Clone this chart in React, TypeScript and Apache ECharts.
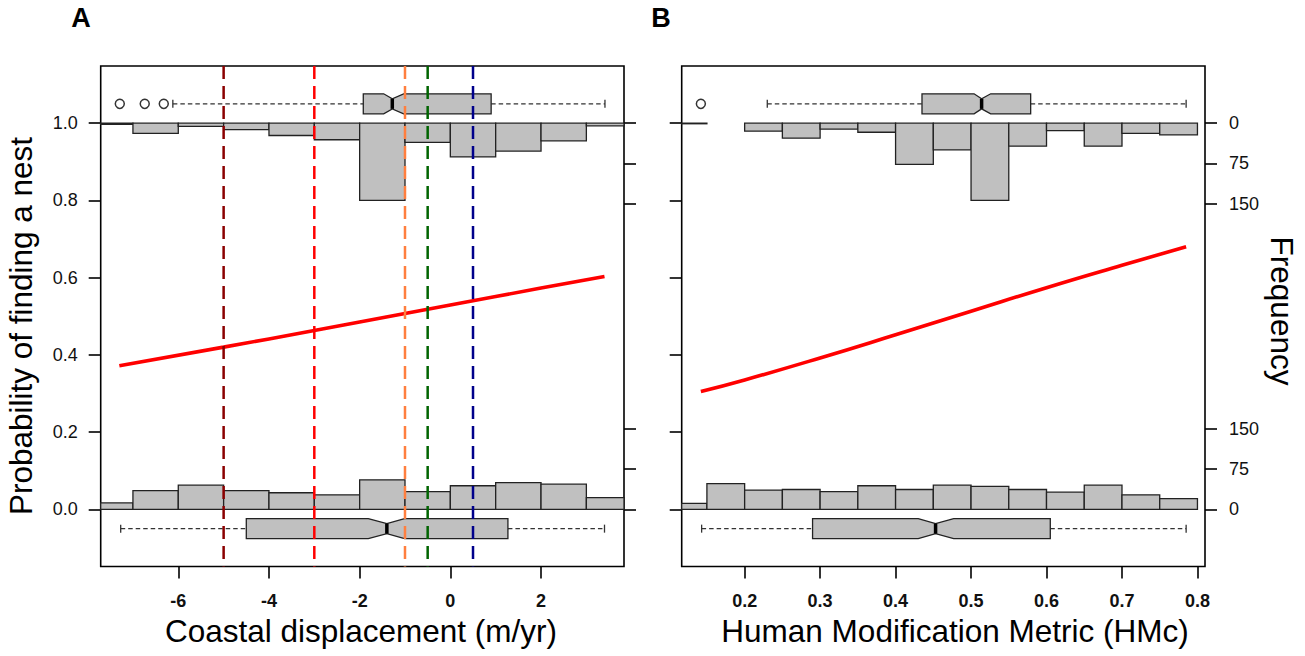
import React, { useEffect, useRef } from "react";
import * as echarts from "echarts";

// ---- tick labels ----
const xTicksA = [-6, -4, -2, 0, 2];
const xTicksB = [0.2, 0.3, 0.4, 0.5, 0.6, 0.7, 0.8];
const yTicks = [0, 0.2, 0.4, 0.6, 0.8, 1.0];
const freqTicks = [0, 75, 150];

// ---- histograms (counts per bin) ----
const binEdgesA = [-8, -7, -6, -5, -4, -3, -2, -1, 0, 1, 2, 3, 4];
const absentCountsA = [12, 35, 45, 35, 31, 27, 55, 33, 44, 50, 47, 22];
const presentCountsA = [2, 19, 6, 12, 23, 31, 144, 36, 63, 52, 33, 5];

const binEdgesB = [0.1, 0.15, 0.2, 0.25, 0.3, 0.35, 0.4, 0.45, 0.5, 0.55, 0.6, 0.65, 0.7, 0.75, 0.8];
const absentCountsB = [11, 48, 36, 37, 33, 44, 37, 45, 43, 37, 32, 45, 27, 20];
const presentCountsB = [1, 0, 15, 28, 11, 17, 77, 50, 144, 43, 14, 43, 19, 22];

// ---- fitted probability curves ----
const fitXA = [-7.3, -5, -3, -1, 0, 2, 3.4];
const fitYA = [0.372, 0.42, 0.463, 0.507, 0.529, 0.573, 0.603];
const fitXB = [0.142, 0.2, 0.3, 0.4, 0.5, 0.6, 0.7, 0.785];
const fitYB = [0.305, 0.335, 0.392, 0.452, 0.513, 0.574, 0.632, 0.68];

// ---- notched boxplots: [whiskerLo, q1, notchLo, median, notchHi, q3, whiskerHi] ----
const boxPresentA = [-6.12, -1.92, -1.47, -1.28, -1.03, 0.9, 3.41];
const boxAbsentA = [-7.27, -4.5, -1.81, -1.4, -1.01, 1.27, 3.4];
const outliersPresentA = [-7.29, -6.74, -6.32];
const boxPresentB = [0.23, 0.435, 0.504, 0.514, 0.526, 0.579, 0.785];
const boxAbsentB = [0.143, 0.29, 0.43, 0.453, 0.477, 0.605, 0.785];
const outliersPresentB = [0.142];

// ---- threshold lines (panel A) ----
const thresholdsA = [-5, -3, -1, -0.5, 0.5];
const thresholdColors = ["#8B0000", "#FF0000", "#FF7F3F", "#006400", "#00008B"];

const FREQ_SCALE = 0.2082 / 150; // probability units per count
const BOX_TOP = 1.05;
const BOX_BOTTOM = -0.05;
const BOX_HALF = 0.026;
const Y_MIN = -0.148;
const Y_MAX = 1.148;
const FONT = "'Liberation Sans', Arial, Helvetica, sans-serif";

function histData(edges: number[], counts: number[]) {
  const out: number[][] = [];
  counts.forEach((c, i) => {
    if (c > 0) out.push([edges[i], edges[i + 1], c]);
  });
  return out;
}

function histSeries(gridIdx: number, edges: number[], counts: number[], base: number, dir: number) {
  return {
    type: "custom",
    xAxisIndex: gridIdx,
    yAxisIndex: gridIdx * 2,
    z: 2,
    data: histData(edges, counts),
    encode: { x: [0, 1], y: 2 },
    renderItem: (params: any, api: any) => {
      const x0 = api.value(0);
      const x1 = api.value(1);
      const c = api.value(2);
      const p0 = api.coord([x0, base]);
      const p1 = api.coord([x1, base + dir * c * FREQ_SCALE]);
      const rect = {
        x: Math.min(p0[0], p1[0]),
        y: Math.min(p0[1], p1[1]),
        width: Math.abs(p1[0] - p0[0]),
        height: Math.max(Math.abs(p1[1] - p0[1]), 0.6),
      };
      const cs = params.coordSys;
      const clipped = echarts.graphic.clipRectByRect(rect, {
        x: cs.x,
        y: cs.y,
        width: cs.width,
        height: cs.height,
      });
      if (!clipped) return null;
      return {
        type: "rect",
        shape: clipped,
        style: { fill: "#c0c0c0", stroke: "#222", lineWidth: 1.3 },
      };
    },
  };
}

function boxSeries(gridIdx: number, stats: number[], yc: number) {
  return {
    type: "custom",
    xAxisIndex: gridIdx,
    yAxisIndex: gridIdx * 2,
    z: 4,
    data: [[...stats, yc]],
    encode: { x: [0, 6], y: 7 },
    renderItem: (params: any, api: any) => {
      const v = (i: number) => api.value(i);
      const [wLo, q1, nLo, med, nHi, q3, wHi, c] = [0, 1, 2, 3, 4, 5, 6, 7].map(v);
      const P = (x: number, y: number) => api.coord([x, y]);
      const h = BOX_HALF;
      const pts = [
        P(q1, c + h),
        P(nLo, c + h),
        P(med, c + h / 2),
        P(nHi, c + h),
        P(q3, c + h),
        P(q3, c - h),
        P(nHi, c - h),
        P(med, c - h / 2),
        P(nLo, c - h),
        P(q1, c - h),
      ];
      const a = P(wLo, c);
      const b = P(q1, c);
      const d = P(q3, c);
      const e = P(wHi, c);
      const mTop = P(med, c + h / 2);
      const mBot = P(med, c - h / 2);
      const cap = 4;
      const dash = { stroke: "#333", lineWidth: 1.3, lineDash: [4.5, 3] };
      const solid = { stroke: "#333", lineWidth: 1.3 };
      return {
        type: "group",
        children: [
          { type: "line", shape: { x1: a[0], y1: a[1], x2: b[0], y2: b[1] }, style: dash },
          { type: "line", shape: { x1: d[0], y1: d[1], x2: e[0], y2: e[1] }, style: dash },
          { type: "line", shape: { x1: a[0], y1: a[1] - cap, x2: a[0], y2: a[1] + cap }, style: solid },
          { type: "line", shape: { x1: e[0], y1: e[1] - cap, x2: e[0], y2: e[1] + cap }, style: solid },
          {
            type: "polygon",
            shape: { points: pts },
            style: { fill: "#c0c0c0", stroke: "#222", lineWidth: 1.3 },
          },
          {
            type: "line",
            shape: { x1: mTop[0], y1: mTop[1], x2: mBot[0], y2: mBot[1] },
            style: { stroke: "#000", lineWidth: 3.5 },
          },
        ],
      };
    },
  };
}

function outlierSeries(gridIdx: number, xs: number[], yc: number) {
  return {
    type: "scatter",
    xAxisIndex: gridIdx,
    yAxisIndex: gridIdx * 2,
    z: 5,
    symbol: "circle",
    symbolSize: 9,
    itemStyle: { color: "#fff", borderColor: "#000", borderWidth: 1.5 },
    data: xs.map((x) => [x, yc]),
  };
}

function fitSeries(gridIdx: number, xs: number[], ys: number[]) {
  return {
    type: "line",
    xAxisIndex: gridIdx,
    yAxisIndex: gridIdx * 2,
    z: 6,
    showSymbol: false,
    smooth: true,
    lineStyle: { color: "#FF0000", width: 3.6 },
    data: xs.map((x, i) => [x, ys[i]]),
  };
}

function xAxisCfg(gridIdx: number, min: number, max: number, ticks: number[]) {
  return {
    gridIndex: gridIdx,
    type: "value",
    position: "bottom",
    min,
    max,
    axisLine: { show: false, onZero: false },
    splitLine: { show: false },
    axisTick: { show: true, customValues: ticks, length: 12, lineStyle: { color: "#000", width: 1.6 } },
    axisLabel: {
      customValues: ticks,
      fontSize: 18,
      fontWeight: "bold",
      color: "#111",
      margin: 25,
      fontFamily: FONT,
    },
  };
}

const freqTickValues = [
  ...freqTicks.map((c) => 1 - c * FREQ_SCALE),
  ...freqTicks.map((c) => c * FREQ_SCALE),
];

function yAxesCfg(gridIdx: number, showLeftLabels: boolean, showRightLabels: boolean) {
  return [
    {
      gridIndex: gridIdx,
      type: "value",
      position: "left",
      min: Y_MIN,
      max: Y_MAX,
      axisLine: { show: false, onZero: false },
      splitLine: { show: false },
      axisTick: { show: true, customValues: yTicks, length: 12, lineStyle: { color: "#000", width: 1.6 } },
      axisLabel: {
        show: showLeftLabels,
        customValues: yTicks,
        formatter: (v: number) => v.toFixed(1),
        fontSize: 18,
        color: "#111",
        margin: 23,
        fontFamily: FONT,
      },
    },
    {
      gridIndex: gridIdx,
      type: "value",
      position: "right",
      min: Y_MIN,
      max: Y_MAX,
      axisLine: { show: false, onZero: false },
      splitLine: { show: false },
      axisTick: { show: true, customValues: freqTickValues, length: 12, lineStyle: { color: "#000", width: 1.6 } },
      axisLabel: {
        show: showRightLabels,
        customValues: freqTickValues,
        formatter: (v: number) => String(Math.round((v > 0.5 ? 1 - v : v) / FREQ_SCALE)),
        fontSize: 18,
        color: "#111",
        margin: 24,
        fontFamily: FONT,
      },
    },
  ];
}

const vlineSeries = {
  type: "custom",
  xAxisIndex: 0,
  yAxisIndex: 0,
  z: 8,
  data: thresholdsA.map((x, i) => [x, i]),
  encode: { x: 0 },
  renderItem: (params: any, api: any) => {
    const x = api.value(0);
    const idx = api.value(1);
    const cs = params.coordSys;
    const p = api.coord([x, 0]);
    return {
      type: "line",
      shape: { x1: p[0], y1: cs.y, x2: p[0], y2: cs.y + cs.height },
      style: { stroke: thresholdColors[idx], lineWidth: 2.5, lineDash: [13, 7] },
    };
  },
};

export default function App() {
  const ref = useRef<HTMLDivElement>(null);
  useEffect(() => {
    if (!ref.current) return;
    const chart = echarts.init(ref.current, undefined, { renderer: "svg" });
    const gridBase = {
      top: 66,
      width: 523.3,
      height: 500.5,
      show: true,
      borderColor: "#000",
      borderWidth: 1.6,
      backgroundColor: "transparent",
      containLabel: false,
      outerBoundsMode: "none",
    };
    const option: any = {
      animation: false,
      backgroundColor: "#fff",
      grid: [
        { ...gridBase, left: 100.7 },
        { ...gridBase, left: 681.7 },
      ],
      xAxis: [
        xAxisCfg(0, -7.711, 3.83, xTicksA),
        xAxisCfg(1, 0.1166, 0.81, xTicksB),
      ],
      yAxis: [...yAxesCfg(0, true, false), ...yAxesCfg(1, false, true)],
      series: [
        histSeries(0, binEdgesA, absentCountsA, 0, 1),
        histSeries(0, binEdgesA, presentCountsA, 1, -1),
        histSeries(1, binEdgesB, absentCountsB, 0, 1),
        histSeries(1, binEdgesB, presentCountsB, 1, -1),
        boxSeries(0, boxPresentA, BOX_TOP),
        boxSeries(0, boxAbsentA, BOX_BOTTOM),
        boxSeries(1, boxPresentB, BOX_TOP),
        boxSeries(1, boxAbsentB, BOX_BOTTOM),
        outlierSeries(0, outliersPresentA, BOX_TOP),
        outlierSeries(1, outliersPresentB, BOX_TOP),
        fitSeries(0, fitXA, fitYA),
        fitSeries(1, fitXB, fitYB),
        vlineSeries,
      ],
      graphic: [
        {
          type: "text",
          x: 81,
          y: 18,
          style: { text: "A", fontSize: 27, fontWeight: "bold", fontFamily: FONT, fill: "#000", align: "center", verticalAlign: "middle" },
        },
        {
          type: "text",
          x: 661,
          y: 18,
          style: { text: "B", fontSize: 27, fontWeight: "bold", fontFamily: FONT, fill: "#000", align: "center", verticalAlign: "middle" },
        },
        {
          type: "text",
          x: 361,
          y: 631,
          style: { text: "Coastal displacement (m/yr)", fontSize: 31.5, fontFamily: FONT, fill: "#000", align: "center", verticalAlign: "middle" },
        },
        {
          type: "text",
          x: 955,
          y: 631,
          style: { text: "Human Modification Metric (HMc)", fontSize: 31.5, fontFamily: FONT, fill: "#000", align: "center", verticalAlign: "middle" },
        },
        {
          type: "text",
          x: 21,
          y: 326,
          rotation: Math.PI / 2,
          style: { text: "Probability of finding a nest", fontSize: 31.5, fontFamily: FONT, fill: "#000", align: "center", verticalAlign: "middle" },
        },
        {
          type: "text",
          x: 1282,
          y: 311,
          rotation: -Math.PI / 2,
          style: { text: "Frequency", fontSize: 31.5, fontFamily: FONT, fill: "#000", align: "center", verticalAlign: "middle" },
        },
      ],
    };
    chart.setOption(option);
    return () => chart.dispose();
  }, []);
  return (
    <div
      ref={ref}
      style={{ position: "fixed", left: 0, top: 0, width: 1305, height: 656, background: "#fff" }}
    />
  );
}
